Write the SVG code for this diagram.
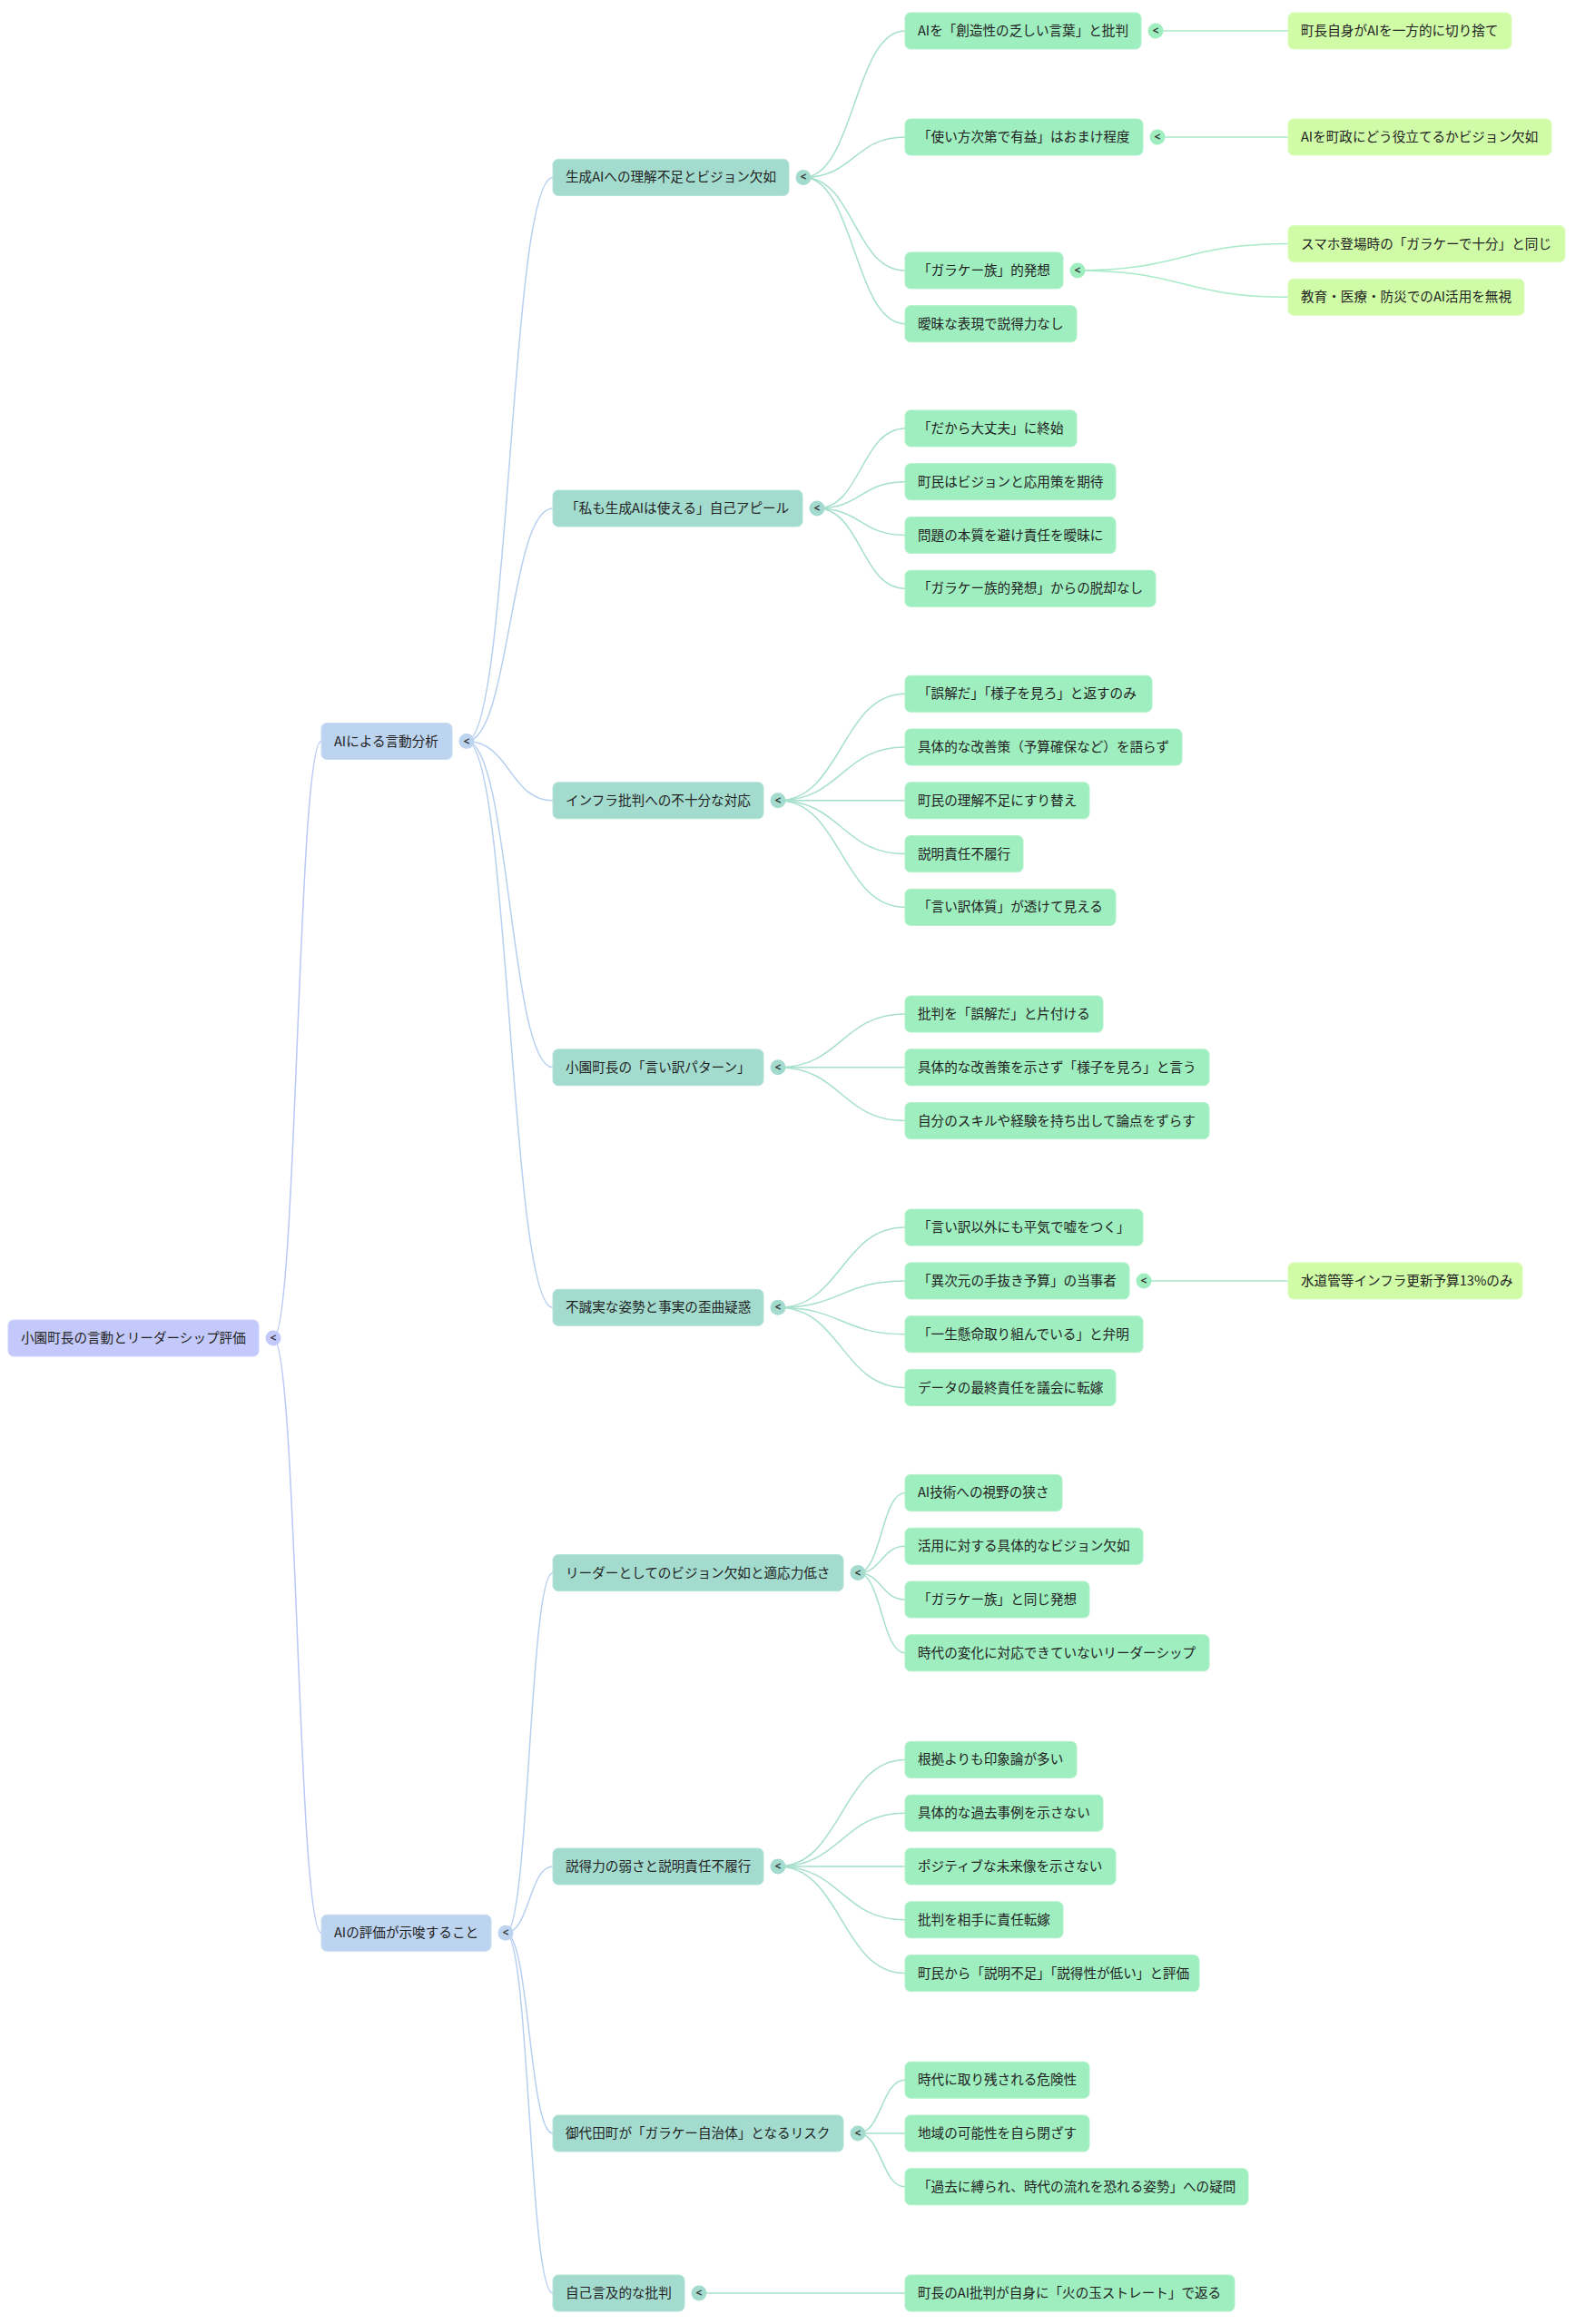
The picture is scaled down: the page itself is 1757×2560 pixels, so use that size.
<svg xmlns="http://www.w3.org/2000/svg" width="1757" height="2560" viewBox="0 0 1757 2560">
<style>
  .bg { fill: #ffffff; }
  rect.nd { rx: 6px; ry: 6px; stroke-width: 1; }
  .n0 { fill: #c4c9fb; stroke: #cfd3fb; }
  .n1 { fill: #bcd4ef; stroke: #c8dcf2; }
  .n2 { fill: #a3dccf; stroke: #b4e3d8; }
  .n3 { fill: #9eeebf; stroke: #b0f1ca; }
  .n4 { fill: #d0fca7; stroke: #dcfcbd; }
  text.t { font-family: "Noto Sans CJK JP", "Noto Sans", sans-serif; font-size: 14.6px; fill: #222222; }
  text.tg { font-family: "Noto Sans", "DejaVu Sans", sans-serif; font-size: 12px; font-weight: bold; fill: #333333; text-anchor: middle; }
  .c0 { fill: #c4c9fb; }
  .c1 { fill: #bcd4ef; }
  .c2 { fill: #a3dccf; }
  .c3 { fill: #9eeebf; }
  path.l { fill: none; stroke-width: 1.5; }
  .l0 { stroke: #b9c8f5; }
  .l1 { stroke: #b8d0f0; }
  .l2 { stroke: #a6e0cd; }
  .l3 { stroke: #a8eac9; }
</style>
<rect class="bg" x="0" y="0" width="1757" height="2560"/>

<g id="connectors">
  <!-- root to L1 -->
  <path class="l l0" d="M301 1474 C327.5 1474 327.5 816.5 354 816.5"/>
  <path class="l l0" d="M301 1474 C327.5 1474 327.5 2129.3 354 2129.3"/>
  <!-- L1a to L2 -->
  <path class="l l1" d="M514 816.5 C561.5 816.5 561.5 195.4 609 195.4"/>
  <path class="l l1" d="M514 816.5 C561.5 816.5 561.5 560.1 609 560.1"/>
  <path class="l l1" d="M514 816.5 C561.5 816.5 561.5 881.8 609 881.8"/>
  <path class="l l1" d="M514 816.5 C561.5 816.5 561.5 1175.8 609 1175.8"/>
  <path class="l l1" d="M514 816.5 C561.5 816.5 561.5 1440.3 609 1440.3"/>
  <!-- L1b to L2 -->
  <path class="l l1" d="M557 2129.3 C583 2129.3 583 1732.6 609 1732.6"/>
  <path class="l l1" d="M557 2129.3 C583 2129.3 583 2056 609 2056"/>
  <path class="l l1" d="M557 2129.3 C583 2129.3 583 2350 609 2350"/>
  <path class="l l1" d="M557 2129.3 C583 2129.3 583 2526 609 2526"/>
  <!-- A1 -->
  <path class="l l2" d="M885 195.4 C941 195.4 941 34 997 34"/>
  <path class="l l2" d="M885 195.4 C941 195.4 941 151 997 151"/>
  <path class="l l2" d="M885 195.4 C941 195.4 941 297.9 997 297.9"/>
  <path class="l l2" d="M885 195.4 C941 195.4 941 356.7 997 356.7"/>
  <!-- A2 -->
  <path class="l l2" d="M900 560.1 C948.5 560.1 948.5 471.9 997 471.9"/>
  <path class="l l2" d="M900 560.1 C948.5 560.1 948.5 530.7 997 530.7"/>
  <path class="l l2" d="M900 560.1 C948.5 560.1 948.5 589.5 997 589.5"/>
  <path class="l l2" d="M900 560.1 C948.5 560.1 948.5 648.3 997 648.3"/>
  <!-- A3 -->
  <path class="l l2" d="M857 881.8 C927 881.8 927 764.2 997 764.2"/>
  <path class="l l2" d="M857 881.8 C927 881.8 927 823 997 823"/>
  <path class="l l2" d="M857 881.8 C927 881.8 927 881.8 997 881.8"/>
  <path class="l l2" d="M857 881.8 C927 881.8 927 940.6 997 940.6"/>
  <path class="l l2" d="M857 881.8 C927 881.8 927 999.4 997 999.4"/>
  <!-- A4 -->
  <path class="l l2" d="M857 1175.8 C927 1175.8 927 1117 997 1117"/>
  <path class="l l2" d="M857 1175.8 C927 1175.8 927 1175.8 997 1175.8"/>
  <path class="l l2" d="M857 1175.8 C927 1175.8 927 1234.6 997 1234.6"/>
  <!-- A5 -->
  <path class="l l2" d="M857 1440.3 C927 1440.3 927 1352.1 997 1352.1"/>
  <path class="l l2" d="M857 1440.3 C927 1440.3 927 1410.9 997 1410.9"/>
  <path class="l l2" d="M857 1440.3 C927 1440.3 927 1469.7 997 1469.7"/>
  <path class="l l2" d="M857 1440.3 C927 1440.3 927 1528.5 997 1528.5"/>
  <!-- B1 -->
  <path class="l l2" d="M945 1732.6 C971 1732.6 971 1644.4 997 1644.4"/>
  <path class="l l2" d="M945 1732.6 C971 1732.6 971 1703.2 997 1703.2"/>
  <path class="l l2" d="M945 1732.6 C971 1732.6 971 1762 997 1762"/>
  <path class="l l2" d="M945 1732.6 C971 1732.6 971 1820.8 997 1820.8"/>
  <!-- B2 -->
  <path class="l l2" d="M857 2056 C927 2056 927 1938.4 997 1938.4"/>
  <path class="l l2" d="M857 2056 C927 2056 927 1997.2 997 1997.2"/>
  <path class="l l2" d="M857 2056 C927 2056 927 2056 997 2056"/>
  <path class="l l2" d="M857 2056 C927 2056 927 2114.8 997 2114.8"/>
  <path class="l l2" d="M857 2056 C927 2056 927 2173.6 997 2173.6"/>
  <!-- B3 -->
  <path class="l l2" d="M945 2350 C971 2350 971 2291.2 997 2291.2"/>
  <path class="l l2" d="M945 2350 C971 2350 971 2350 997 2350"/>
  <path class="l l2" d="M945 2350 C971 2350 971 2408.8 997 2408.8"/>
  <!-- B4 -->
  <path class="l l2" d="M770 2526 C883.5 2526 883.5 2526 997 2526"/>
  <!-- L3 to L4 -->
  <path class="l l3" d="M1273 34 C1346 34 1346 34 1419 34"/>
  <path class="l l3" d="M1275 151 C1347 151 1347 151 1419 151"/>
  <path class="l l3" d="M1187 297.9 C1303 297.9 1303 268.5 1419 268.5"/>
  <path class="l l3" d="M1187 297.9 C1303 297.9 1303 327.3 1419 327.3"/>
  <path class="l l3" d="M1260 1410.9 C1339.5 1410.9 1339.5 1410.9 1419 1410.9"/>
</g>

<!-- Root -->
<g id="root">
  <rect class="nd n0" x="9" y="1454" width="276" height="40"/>
  <text class="t" x="23" y="1479">小園町長の言動とリーダーシップ評価</text>
  <circle class="c0" cx="301" cy="1474" r="8.5"/><text class="tg" x="301" y="1478">&lt;</text>
</g>

<!-- Level 1 -->
<g id="l1a">
  <rect class="nd n1" x="354" y="796.5" width="144" height="40"/>
  <text class="t" x="368" y="821.5">AIによる言動分析</text>
  <circle class="c1" cx="514" cy="816.5" r="8.5"/><text class="tg" x="514" y="820.5">&lt;</text>
</g>
<g id="l1b">
  <rect class="nd n1" x="354" y="2109.3" width="187" height="40"/>
  <text class="t" x="368" y="2134.3">AIの評価が示唆すること</text>
  <circle class="c1" cx="557" cy="2129.3" r="8.5"/><text class="tg" x="557" y="2133.3">&lt;</text>
</g>

<!-- Level 2 -->
<g id="a1">
  <rect class="nd n2" x="609" y="175.4" width="260" height="40"/>
  <text class="t" x="623" y="200.4">生成AIへの理解不足とビジョン欠如</text>
  <circle class="c2" cx="885" cy="195.4" r="8.5"/><text class="tg" x="885" y="199.4">&lt;</text>
</g>
<g id="a2">
  <rect class="nd n2" x="609" y="540.1" width="275" height="40"/>
  <text class="t" x="623" y="565.1">「私も生成AIは使える」自己アピール</text>
  <circle class="c2" cx="900" cy="560.1" r="8.5"/><text class="tg" x="900" y="564.1">&lt;</text>
</g>
<g id="a3">
  <rect class="nd n2" x="609" y="861.8" width="232" height="40"/>
  <text class="t" x="623" y="886.8">インフラ批判への不十分な対応</text>
  <circle class="c2" cx="857" cy="881.8" r="8.5"/><text class="tg" x="857" y="885.8">&lt;</text>
</g>
<g id="a4">
  <rect class="nd n2" x="609" y="1155.8" width="232" height="40"/>
  <text class="t" x="623" y="1180.8">小園町長の「言い訳パターン」</text>
  <circle class="c2" cx="857" cy="1175.8" r="8.5"/><text class="tg" x="857" y="1179.8">&lt;</text>
</g>
<g id="a5">
  <rect class="nd n2" x="609" y="1420.3" width="232" height="40"/>
  <text class="t" x="623" y="1445.3">不誠実な姿勢と事実の歪曲疑惑</text>
  <circle class="c2" cx="857" cy="1440.3" r="8.5"/><text class="tg" x="857" y="1444.3">&lt;</text>
</g>
<g id="b1">
  <rect class="nd n2" x="609" y="1712.6" width="320" height="40"/>
  <text class="t" x="623" y="1737.6">リーダーとしてのビジョン欠如と適応力低さ</text>
  <circle class="c2" cx="945" cy="1732.6" r="8.5"/><text class="tg" x="945" y="1736.6">&lt;</text>
</g>
<g id="b2">
  <rect class="nd n2" x="609" y="2036" width="232" height="40"/>
  <text class="t" x="623" y="2061">説得力の弱さと説明責任不履行</text>
  <circle class="c2" cx="857" cy="2056" r="8.5"/><text class="tg" x="857" y="2060">&lt;</text>
</g>
<g id="b3">
  <rect class="nd n2" x="609" y="2330" width="320" height="40"/>
  <text class="t" x="623" y="2355">御代田町が「ガラケー自治体」となるリスク</text>
  <circle class="c2" cx="945" cy="2350" r="8.5"/><text class="tg" x="945" y="2354">&lt;</text>
</g>
<g id="b4">
  <rect class="nd n2" x="609" y="2506" width="145" height="40"/>
  <text class="t" x="623" y="2531">自己言及的な批判</text>
  <circle class="c2" cx="770" cy="2526" r="8.5"/><text class="tg" x="770" y="2530">&lt;</text>
</g>

<!-- Level 3 -->
<g id="a1-1">
  <rect class="nd n3" x="997" y="14" width="260" height="40"/>
  <text class="t" x="1011" y="39">AIを「創造性の乏しい言葉」と批判</text>
  <circle class="c3" cx="1273" cy="34" r="8.5"/><text class="tg" x="1273" y="38">&lt;</text>
</g>
<g id="a1-2">
  <rect class="nd n3" x="997" y="131" width="262" height="40"/>
  <text class="t" x="1011" y="156">「使い方次第で有益」はおまけ程度</text>
  <circle class="c3" cx="1275" cy="151" r="8.5"/><text class="tg" x="1275" y="155">&lt;</text>
</g>
<g id="a1-3">
  <rect class="nd n3" x="997" y="277.9" width="174" height="40"/>
  <text class="t" x="1011" y="302.9">「ガラケー族」的発想</text>
  <circle class="c3" cx="1187" cy="297.9" r="8.5"/><text class="tg" x="1187" y="301.9">&lt;</text>
</g>
<g id="a1-4">
  <rect class="nd n3" x="997" y="336.7" width="189" height="40"/>
  <text class="t" x="1011" y="361.7">曖昧な表現で説得力なし</text>
</g>
<g id="a2-1">
  <rect class="nd n3" x="997" y="451.9" width="189" height="40"/>
  <text class="t" x="1011" y="476.9">「だから大丈夫」に終始</text>
</g>
<g id="a2-2">
  <rect class="nd n3" x="997" y="510.7" width="232" height="40"/>
  <text class="t" x="1011" y="535.7">町民はビジョンと応用策を期待</text>
</g>
<g id="a2-3">
  <rect class="nd n3" x="997" y="569.5" width="232" height="40"/>
  <text class="t" x="1011" y="594.5">問題の本質を避け責任を曖昧に</text>
</g>
<g id="a2-4">
  <rect class="nd n3" x="997" y="628.3" width="276" height="40"/>
  <text class="t" x="1011" y="653.3">「ガラケー族的発想」からの脱却なし</text>
</g>
<g id="a3-1">
  <rect class="nd n3" x="997" y="744.2" width="272" height="40"/>
  <text class="t" x="1011" y="769.2">「誤解だ」「様子を見ろ」と返すのみ</text>
</g>
<g id="a3-2">
  <rect class="nd n3" x="997" y="803" width="305" height="40"/>
  <text class="t" x="1011" y="828">具体的な改善策（予算確保など）を語らず</text>
</g>
<g id="a3-3">
  <rect class="nd n3" x="997" y="861.8" width="203" height="40"/>
  <text class="t" x="1011" y="886.8">町民の理解不足にすり替え</text>
</g>
<g id="a3-4">
  <rect class="nd n3" x="997" y="920.6" width="130" height="40"/>
  <text class="t" x="1011" y="945.6">説明責任不履行</text>
</g>
<g id="a3-5">
  <rect class="nd n3" x="997" y="979.4" width="232" height="40"/>
  <text class="t" x="1011" y="1004.4">「言い訳体質」が透けて見える</text>
</g>
<g id="a4-1">
  <rect class="nd n3" x="997" y="1097" width="218" height="40"/>
  <text class="t" x="1011" y="1122">批判を「誤解だ」と片付ける</text>
</g>
<g id="a4-2">
  <rect class="nd n3" x="997" y="1155.8" width="335" height="40"/>
  <text class="t" x="1011" y="1180.8">具体的な改善策を示さず「様子を見ろ」と言う</text>
</g>
<g id="a4-3">
  <rect class="nd n3" x="997" y="1214.6" width="335" height="40"/>
  <text class="t" x="1011" y="1239.6">自分のスキルや経験を持ち出して論点をずらす</text>
</g>
<g id="a5-1">
  <rect class="nd n3" x="997" y="1332.1" width="262" height="40"/>
  <text class="t" x="1011" y="1357.1">「言い訳以外にも平気で嘘をつく」</text>
</g>
<g id="a5-2">
  <rect class="nd n3" x="997" y="1390.9" width="247" height="40"/>
  <text class="t" x="1011" y="1415.9">「異次元の手抜き予算」の当事者</text>
  <circle class="c3" cx="1260" cy="1410.9" r="8.5"/><text class="tg" x="1260" y="1414.9">&lt;</text>
</g>
<g id="a5-3">
  <rect class="nd n3" x="997" y="1449.7" width="262" height="40"/>
  <text class="t" x="1011" y="1474.7">「一生懸命取り組んでいる」と弁明</text>
</g>
<g id="a5-4">
  <rect class="nd n3" x="997" y="1508.5" width="232" height="40"/>
  <text class="t" x="1011" y="1533.5">データの最終責任を議会に転嫁</text>
</g>
<g id="b1-1">
  <rect class="nd n3" x="997" y="1624.4" width="173" height="40"/>
  <text class="t" x="1011" y="1649.4">AI技術への視野の狭さ</text>
</g>
<g id="b1-2">
  <rect class="nd n3" x="997" y="1683.2" width="262" height="40"/>
  <text class="t" x="1011" y="1708.2">活用に対する具体的なビジョン欠如</text>
</g>
<g id="b1-3">
  <rect class="nd n3" x="997" y="1742" width="203" height="40"/>
  <text class="t" x="1011" y="1767">「ガラケー族」と同じ発想</text>
</g>
<g id="b1-4">
  <rect class="nd n3" x="997" y="1800.8" width="335" height="40"/>
  <text class="t" x="1011" y="1825.8">時代の変化に対応できていないリーダーシップ</text>
</g>
<g id="b2-1">
  <rect class="nd n3" x="997" y="1918.4" width="189" height="40"/>
  <text class="t" x="1011" y="1943.4">根拠よりも印象論が多い</text>
</g>
<g id="b2-2">
  <rect class="nd n3" x="997" y="1977.2" width="218" height="40"/>
  <text class="t" x="1011" y="2002.2">具体的な過去事例を示さない</text>
</g>
<g id="b2-3">
  <rect class="nd n3" x="997" y="2036" width="232" height="40"/>
  <text class="t" x="1011" y="2061">ポジティブな未来像を示さない</text>
</g>
<g id="b2-4">
  <rect class="nd n3" x="997" y="2094.8" width="174" height="40"/>
  <text class="t" x="1011" y="2119.8">批判を相手に責任転嫁</text>
</g>
<g id="b2-5">
  <rect class="nd n3" x="997" y="2153.6" width="324" height="40"/>
  <text class="t" x="1011" y="2178.6">町民から「説明不足」「説得性が低い」と評価</text>
</g>
<g id="b3-1">
  <rect class="nd n3" x="997" y="2271.2" width="203" height="40"/>
  <text class="t" x="1011" y="2296.2">時代に取り残される危険性</text>
</g>
<g id="b3-2">
  <rect class="nd n3" x="997" y="2330" width="203" height="40"/>
  <text class="t" x="1011" y="2355">地域の可能性を自ら閉ざす</text>
</g>
<g id="b3-3">
  <rect class="nd n3" x="997" y="2388.8" width="378" height="40"/>
  <text class="t" x="1011" y="2413.8">「過去に縛られ、時代の流れを恐れる姿勢」への疑問</text>
</g>
<g id="b4-1">
  <rect class="nd n3" x="997" y="2506" width="363" height="40"/>
  <text class="t" x="1011" y="2531">町長のAI批判が自身に「火の玉ストレート」で返る</text>
</g>

<!-- Level 4 -->
<g id="d1">
  <rect class="nd n4" x="1419" y="14" width="246" height="40"/>
  <text class="t" x="1433" y="39">町長自身がAIを一方的に切り捨て</text>
</g>
<g id="d2">
  <rect class="nd n4" x="1419" y="131" width="290" height="40"/>
  <text class="t" x="1433" y="156">AIを町政にどう役立てるかビジョン欠如</text>
</g>
<g id="d3">
  <rect class="nd n4" x="1419" y="248.5" width="305" height="40"/>
  <text class="t" x="1433" y="273.5">スマホ登場時の「ガラケーで十分」と同じ</text>
</g>
<g id="d4">
  <rect class="nd n4" x="1419" y="307.3" width="260" height="40"/>
  <text class="t" x="1433" y="332.3">教育・医療・防災でのAI活用を無視</text>
</g>
<g id="d5">
  <rect class="nd n4" x="1419" y="1390.9" width="258" height="40"/>
  <text class="t" x="1433" y="1415.9">水道管等インフラ更新予算13%のみ</text>
</g>
</svg>
